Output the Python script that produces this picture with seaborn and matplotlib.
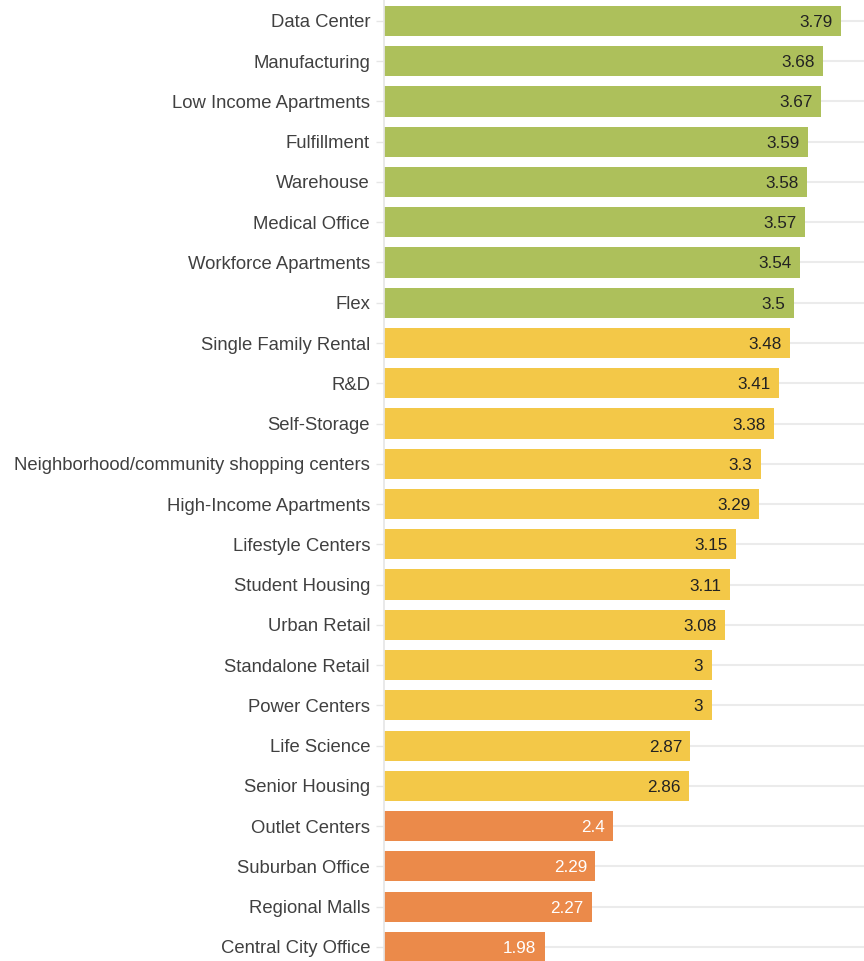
import numpy as np
import pandas as pd
import seaborn as sns
import matplotlib.pyplot as plt

# Categories and scores, top to bottom
categories = ['Data Center', 'Manufacturing', 'Low Income Apartments', 'Fulfillment',
              'Warehouse', 'Medical Office', 'Workforce Apartments', 'Flex',
              'Single Family Rental', 'R&D', 'Self-Storage',
              'Neighborhood/community shopping centers', 'High-Income Apartments',
              'Lifestyle Centers', 'Student Housing', 'Urban Retail', 'Standalone Retail',
              'Power Centers', 'Life Science', 'Senior Housing', 'Outlet Centers',
              'Suburban Office', 'Regional Malls', 'Central City Office']
scores = [3.79, 3.68, 3.67, 3.59, 3.58, 3.57, 3.54, 3.5,
          3.48, 3.41, 3.38, 3.3, 3.29, 3.15, 3.11, 3.08, 3.0,
          3.0, 2.87, 2.86, 2.4, 2.29, 2.27, 1.98]
groups = ['high'] * 8 + ['mid'] * 12 + ['low'] * 4

group_colors = {'high': '#adc05b', 'mid': '#f3c848', 'low': '#eb8a4a'}
label_colors = {'high': '#222222', 'mid': '#222222', 'low': '#ffffff'}

df = pd.DataFrame({'category': categories, 'score': scores, 'group': groups})

sns.set_theme(style='white')
plt.rcParams['font.family'] = ['Liberation Sans', 'DejaVu Sans']

fig = plt.figure(figsize=(8.64, 9.61), dpi=100)
ax = fig.add_axes([384 / 864, 0, 1 - 384 / 864, 1])

palette = [group_colors[g] for g in groups]
sns.barplot(data=df, x='score', y='category', hue='category', palette=palette,
            legend=False, width=0.75, saturation=1, linewidth=0, ax=ax)

# value labels inside the bar ends
for cont, g in zip(ax.containers, groups):
    ax.bar_label(cont, labels=[f'{v:g}' for v in cont.datavalues], padding=-6,
                 color=label_colors[g], fontsize=12.3)
for t in ax.texts:
    t.set_horizontalalignment('right')
    t.set_verticalalignment('center_baseline')

ax.set_xlim(1, 3.93)
ax.set_ylim(23.35, -0.52)
ax.set_xlabel('')
ax.set_ylabel('')
ax.set_xticks([])
ax.yaxis.grid(True, color='#ebebeb', linewidth=1.5)
ax.set_axisbelow(True)
ax.tick_params(axis='y', left=True, length=6, width=1, color='#e6e6e6',
               labelsize=13.3, labelcolor='#404040', pad=4)
for side in ['top', 'right', 'bottom']:
    ax.spines[side].set_visible(False)
ax.spines['left'].set_color('#e6e6e6')

plt.savefig('out.png', dpi=100)
